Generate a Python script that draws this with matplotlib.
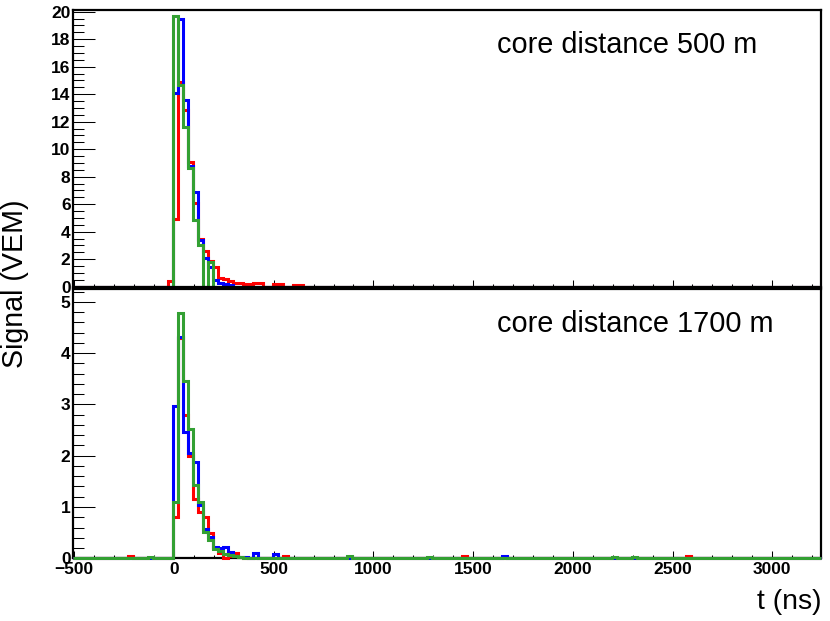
import numpy as np
import matplotlib
matplotlib.use("Agg")
import matplotlib.pyplot as plt
from matplotlib.ticker import MultipleLocator

plt.rcParams["font.family"] = ["Liberation Sans", "DejaVu Sans"]

# --------------------------------------------------------------------
# FADC traces, 25 ns bins
# --------------------------------------------------------------------
T_MIN = -505
T_MAX = 3245
BIN_W = 25
PULSE_START = -30   # first bin of the pulse lists below

# core distance 500 m
top_red = [0.44, 4.9, 14.9, 12.85, 9.1, 6.1, 3.5, 2.6, 1.9, 1.45, 0.6, 0.55,
           0.4, 0.3, 0.3, 0.18, 0.18, 0.25, 0.25, 0, 0, 0.18, 0.18, 0, 0,
           0.15, 0.15]
top_blue = [0, 14.1, 19.45, 13.6, 8.8, 6.9, 3.4, 2.06, 1.45, 0.5, 0.3, 0.2, 0.1]
top_green = [0, 19.65, 14.7, 11.6, 8.6, 4.85, 3.0, 0, 1.8]

# core distance 1700 m
bot_red = [0, 0.8, 4.3, 2.8, 2.0, 1.15, 0.9, 0.8, 0.5, 0.2, 0.1, 0, 0.05,
           0.1, 0.03, 0, 0, 0, 0, 0, 0, 0, 0, 0.05]
bot_blue = [0, 2.97, 4.31, 2.47, 2.06, 1.88, 1.04, 0.58, 0.42, 0.22, 0.2,
            0.23, 0.13, 0.05, 0.03, 0.03, 0, 0.1, 0, 0, 0, 0.09]
bot_green = [0, 1.1, 4.79, 3.46, 2.53, 1.43, 1.1, 0.52, 0.36, 0.19, 0.14,
             0.08, 0.06, 0.04, 0.03]

# isolated small bins far from the pulse (bin start time, signal)
bot_red_blips = [(-230, 0.04), (1445, 0.04), (2570, 0.04)]
bot_blue_blips = [(1645, 0.05)]
bot_green_blips = [(-130, 0.03), (870, 0.04), (1270, 0.03), (2195, 0.03), (2295, 0.03)]

labels = ["core distance 500 m", "core distance 1700 m"]

edges = np.arange(T_MIN, T_MAX + 1, BIN_W)


def trace(pulse, blips=()):
    h = np.zeros(len(edges) - 1)
    i0 = (PULSE_START - T_MIN) // BIN_W
    h[i0:i0 + len(pulse)] = pulse
    for t, v in blips:
        h[(t - T_MIN) // BIN_W] = v
    return h


RED = "#ff0000"
BLUE = "#0000ff"
GREEN = "#33a033"

# --------------------------------------------------------------------
# Figure
# --------------------------------------------------------------------
W, H = 830, 621
fig = plt.figure(figsize=(W / 100, H / 100), dpi=100)
x0, x1 = 73.3, 821.1
ax_top = fig.add_axes([x0 / W, 1 - 286.7 / H, (x1 - x0) / W, (286.7 - 10) / H])
ax_bot = fig.add_axes([x0 / W, 1 - 558.3 / H, (x1 - x0) / W, (558.3 - 289) / H])

panels = [
    (ax_top, [trace(top_red), trace(top_blue), trace(top_green)], 20.12, 2, 0.5),
    (ax_bot, [trace(bot_red, bot_red_blips), trace(bot_blue, bot_blue_blips),
              trace(bot_green, bot_green_blips)], 5.25, 1, 0.2),
]

for i, (ax, hists, ymax, ymaj, ymin) in enumerate(panels):
    for h, c in zip(hists, [RED, BLUE, GREEN]):
        ax.stairs(h, edges, color=c, linewidth=2.2, clip_on=False, zorder=3)
    ax.set_xlim(T_MIN, T_MAX)
    ax.set_ylim(0, ymax)

    ax.xaxis.set_major_locator(MultipleLocator(500))
    ax.xaxis.set_minor_locator(MultipleLocator(100))
    ax.yaxis.set_major_locator(MultipleLocator(ymaj))
    ax.yaxis.set_minor_locator(MultipleLocator(ymin))

    ax.tick_params(axis="x", which="major", direction="in", length=5, width=0.75, pad=3)
    ax.tick_params(axis="x", which="minor", direction="in", length=2.2, width=0.75)
    ax.tick_params(axis="y", which="major", direction="in", length=15.5, width=0.75, pad=2)
    ax.tick_params(axis="y", which="minor", direction="in", length=8, width=0.75)
    ax.tick_params(labelsize=12.5)
    for lab in ax.get_xticklabels() + ax.get_yticklabels():
        lab.set_fontweight("bold")

    for s in ax.spines.values():
        s.set_linewidth(1.6)
    ax.spines["bottom"].set_zorder(4 if i == 0 else 2.5)

ax_top.tick_params(axis="x", labelbottom=False)

fig.text(497 / W, 1 - 53 / H, labels[0], fontsize=20.8, va="baseline", ha="left")
fig.text(497 / W, 1 - 332 / H, labels[1], fontsize=20.8, va="baseline", ha="left")

fig.text(15 / W, 1 - 283.5 / H, "Signal (VEM)", fontsize=20.6, rotation=90,
         ha="center", va="center")
fig.text(821.7 / W, 1 - 602 / H, "t (ns)", fontsize=20.4, ha="right", va="center")

fig.savefig("out.png", dpi=100)
